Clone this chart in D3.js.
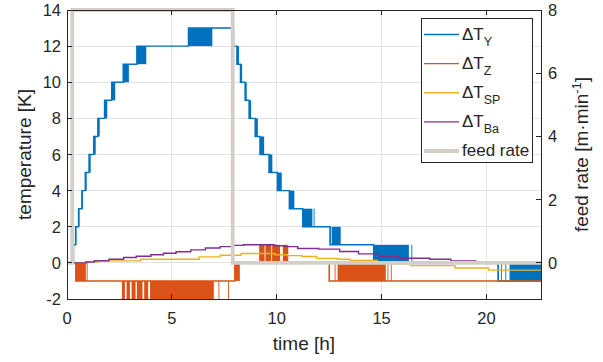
<!DOCTYPE html>
<html><head><meta charset="utf-8">
<script src="https://cdn.jsdelivr.net/npm/d3@7/dist/d3.min.js"></script>
<style>
body{margin:0;background:#fff}
text{font-family:Arial,"Liberation Sans",Helvetica,sans-serif;fill:#262626}
</style>
</head><body>
<svg id="c" width="603" height="362"></svg>
<script>
// ---------- data ----------
const xTicks = [0, 5, 10, 15, 20];
const yLeftTicks = [-2, 0, 2, 4, 6, 8, 10, 12, 14];
const yRightTicks = [0, 2, 4, 6, 8];
const xDomain = [0, 22.6];
const yLeftDomain = [-2, 14];
const feedMax = 8;

// ΔT_Y : step levels [time h, K]
const dTY = [[0.28,0],[0.30,1],[0.41,2],[0.55,3],[0.71,4],[0.87,5],[1.05,6],[1.27,7],[1.47,8],[1.79,9],[2.13,10],[2.68,11],[3.33,12],[5.79,13],[7.93,12],[8.10,11],[8.27,10],[8.49,9],[8.68,8],[8.97,7],[9.20,6],[9.63,5],[10.03,4],[10.60,3],[11.24,2],[12.54,1],[14.62,0],[20.55,-1],[22.6,-1]];
// ΔT_Y : toggling between two levels [t0, t1, low, high]
const dTYToggle = [[0.30,0.32,0,1],[0.41,0.44,1,2],[0.55,0.60,2,3],[0.71,0.76,3,4],[0.87,0.94,4,5],[1.05,1.13,5,6],[1.27,1.37,6,7],[1.47,1.56,7,8],[1.79,1.92,8,9],[2.13,2.30,9,10],[2.68,2.95,10,11],[3.33,3.78,11,12],[5.79,6.93,12,13],
  [7.93,7.96,12,13],[8.10,8.20,11,12],[8.27,8.35,10,11],[8.49,8.57,9,10],[8.68,8.78,8,9],[8.97,9.10,7,8],[9.20,9.40,6,7],[9.63,9.79,5,6],[10.03,10.24,4,5],[10.60,10.84,3,4],[11.24,11.70,2,3],[11.76,11.80,2,3],[12.54,12.57,1,2],[12.62,13.05,1,2],[14.62,16.30,0,1],[16.42,16.46,0,1],[20.55,20.59,-1,0],[20.70,20.74,-1,0],[20.90,20.94,-1,0],[21.10,22.6,-1,0]];

// ΔT_Z
const dTZ = [[0.28,0],[0.42,-1],[8.0,0],[12.5,-1],[22.6,-1]];
const dTZToggle = [[0.40,0.90,-1,0],[0.94,0.97,-1,0],[2.62,2.76,-2,-1],[2.84,3.0,-2,-1],[3.08,3.27,-2,-1],[3.33,3.6,-2,-1],[3.68,3.87,-2,-1],[3.96,7.0,-2,-1],[7.22,7.25,-2,-1],[7.68,7.71,-2,-1],[8.0,8.24,-1,0],[9.16,9.42,0,1],[9.46,9.74,0,1],[9.78,10.16,0,1],[10.29,10.55,0,1],[12.5,12.53,-1,0],[12.76,12.79,-1,0],[12.9,15.2,-1,0],[15.28,15.31,-1,0],[15.44,15.47,-1,0]];

// ΔT_SP
const dTSP = [[0.28,0],[0.9,0.04],[1.5,0.11],[3.5,0.2],[6.3,0.33],[7.3,0.42],[8.3,0.52],[9.9,0.45],[10.5,0.4],[11.2,0.35],[11.9,0.25],[12.9,0.2],[13.5,0.13],[14.8,0.05],[15.3,-0.05],[16.4,-0.15],[18.5,-0.28],[20.1,-0.4],[22.6,-0.4]];

// ΔT_Ba
const dTBa = [[0.28,0],[0.9,0.05],[1.3,0.12],[2.0,0.2],[2.7,0.3],[3.3,0.37],[4.0,0.45],[4.6,0.53],[5.2,0.62],[5.9,0.72],[6.6,0.82],[7.3,0.9],[7.9,0.97],[8.4,1.0],[9.9,0.95],[10.4,0.9],[11.0,0.8],[12.0,0.76],[13.0,0.63],[13.9,0.5],[14.9,0.35],[15.8,0.26],[17.3,0.2],[18.3,0.11],[19.5,0.0],[22.6,0.0]];

// feed rate [m/min]
const feedRate = [[0,0],[0.25,8],[7.9,0],[22.6,0]];

const legendLabels = [["ΔT","Y"],["ΔT","Z"],["ΔT","SP"],["ΔT","Ba"],["feed rate",""]];

// ---------- styles ----------
const colY="#0072BD", colZ="#D95319", colSP="#EDB120", colBa="#7E2F8E", colFeed="#d3cfc8";
const axisCol="#262626", gridCol="#e3e3e3";

// ---------- layout ----------
const L=67, R=541, T=10, B=299;
const svg=d3.select("#c");
const x=d3.scaleLinear().domain(xDomain).range([L,R]);
const y=d3.scaleLinear().domain(yLeftDomain).range([B,T]);
const feedMin = -feedMax*(0-yLeftDomain[0])/(yLeftDomain[1]-0);
const y2=d3.scaleLinear().domain([feedMin,feedMax]).range([B,T]);

svg.append("defs").append("clipPath").attr("id","clip").append("rect")
  .attr("x",L).attr("y",T-3).attr("width",R-L).attr("height",B-T+3);

// grid
const g=svg.append("g");
g.selectAll(".gx").data(xTicks.filter(d=>d>xDomain[0])).enter().append("line")
  .attr("x1",d=>x(d)).attr("x2",d=>x(d)).attr("y1",T).attr("y2",B)
  .attr("stroke",gridCol).attr("stroke-width",1).attr("shape-rendering","crispEdges");
g.selectAll(".gy").data(yLeftTicks.filter(d=>d>yLeftDomain[0]&&d<yLeftDomain[1])).enter().append("line")
  .attr("x1",L).attr("x2",R).attr("y1",d=>y(d)).attr("y2",d=>y(d))
  .attr("stroke",gridCol).attr("stroke-width",1).attr("shape-rendering","crispEdges");

const plot=svg.append("g").attr("clip-path","url(#clip)");
const line=d3.line().x(d=>x(d[0])).y(d=>y(d[1])).curve(d3.curveStepAfter);

function series(steps,toggles,col){
  plot.append("path").datum(steps).attr("d",line).attr("fill","none")
    .attr("stroke",col).attr("stroke-width",1.4);
  if(toggles){
    plot.selectAll(null).data(toggles).enter().append("rect")
      .attr("x",d=>x(d[0])).attr("width",d=>Math.max(x(d[1])-x(d[0]),0.9))
      .attr("y",d=>y(d[3])).attr("height",d=>y(d[2])-y(d[3]))
      .attr("fill",col);
  }
}
series(dTY,dTYToggle,colY);
series(dTZ,dTZToggle,colZ);
series(dTSP,null,colSP);
series(dTBa,null,colBa);

// feed rate (right axis)
plot.append("path").datum(feedRate)
  .attr("d",d3.line().x(d=>x(d[0])).y(d=>y2(d[1])).curve(d3.curveStepAfter))
  .attr("fill","none").attr("stroke",colFeed).attr("stroke-width",3.8);

// axes box
const ax=svg.append("g").attr("stroke",axisCol).attr("stroke-width",1).attr("fill","none").attr("shape-rendering","crispEdges");
ax.append("rect").attr("x",L).attr("y",T).attr("width",R-L).attr("height",B-T);
const tl=5;
ax.selectAll(null).data(xTicks).enter().append("line")
  .attr("x1",d=>x(d)).attr("x2",d=>x(d)).attr("y1",B).attr("y2",B-tl);
ax.selectAll(null).data(xTicks).enter().append("line")
  .attr("x1",d=>x(d)).attr("x2",d=>x(d)).attr("y1",T).attr("y2",T+tl);
ax.selectAll(null).data(yLeftTicks).enter().append("line")
  .attr("x1",L).attr("x2",L+tl).attr("y1",d=>y(d)).attr("y2",d=>y(d));
ax.selectAll(null).data(yRightTicks).enter().append("line")
  .attr("x1",R).attr("x2",R-tl).attr("y1",d=>y2(d)).attr("y2",d=>y2(d));

// tick labels
const tf=16.5;
svg.selectAll(null).data(xTicks).enter().append("text")
  .attr("x",d=>x(d)).attr("y",B+25).attr("text-anchor","middle").attr("font-size",tf).text(d=>d);
svg.selectAll(null).data(yLeftTicks).enter().append("text")
  .attr("x",L-6).attr("y",d=>y(d)+6).attr("text-anchor","end").attr("font-size",tf).text(d=>d);
svg.selectAll(null).data(yRightTicks).enter().append("text")
  .attr("x",R+7).attr("y",d=>y2(d)+6).attr("text-anchor","start").attr("font-size",tf).text(d=>d);

// axis labels
svg.append("text").attr("x",(L+R)/2).attr("y",350).attr("text-anchor","middle").attr("font-size",19).text("time [h]");
svg.append("text").attr("transform",`translate(31,${(T+B)/2}) rotate(-90)`).attr("text-anchor","middle").attr("font-size",19).text("temperature [K]");
const rl=svg.append("text").attr("transform",`translate(588,${(T+B)/2}) rotate(-90)`).attr("text-anchor","middle").attr("font-size",19);
rl.append("tspan").text("feed rate [m·min");
rl.append("tspan").attr("dy",-7).attr("font-size",13).text("-1");
rl.append("tspan").attr("dy",7).text("]");

// legend
const lx=421, ly=18, lw=111, lh=144;
svg.append("rect").attr("x",lx).attr("y",ly).attr("width",lw).attr("height",lh)
  .attr("fill","#fff").attr("stroke",axisCol).attr("stroke-width",1).attr("shape-rendering","crispEdges");
const legCols=[colY,colZ,colSP,colBa,colFeed];
const legW=[1.4,1.4,1.4,1.4,3.8];
const rowY=d3.scaleLinear().domain([0,4]).range([34.5,151]);
legendLabels.forEach((lab,i)=>{
  const yy=rowY(i);
  svg.append("line").attr("x1",lx+3).attr("x2",lx+38).attr("y1",yy).attr("y2",yy)
    .attr("stroke",legCols[i]).attr("stroke-width",legW[i]);
  const t=svg.append("text").attr("x",lx+41).attr("y",yy+5).attr("font-size",17);
  t.append("tspan").text(lab[0]);
  if(lab[1]) t.append("tspan").attr("dy",6).attr("font-size",12.5).text(lab[1]);
});
</script>
</body></html>
